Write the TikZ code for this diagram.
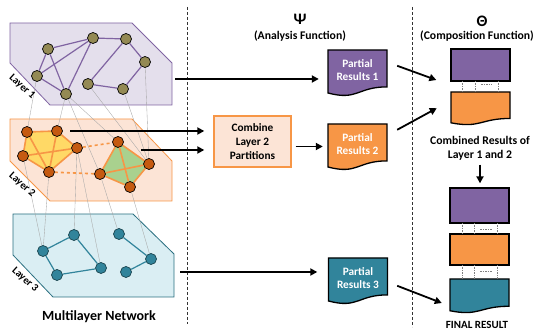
\documentclass[tikz,border=0pt]{standalone}
\usepackage{fontspec}
\setmainfont{Carlito}
\usetikzlibrary{arrows.meta,backgrounds}

\definecolor{purp}{HTML}{8064A2}
\definecolor{purplight}{HTML}{E4DFEC}
\definecolor{oran}{HTML}{F79646}
\definecolor{oranlight}{HTML}{FCE4D6}
\definecolor{teal2}{HTML}{31849B}
\definecolor{tealdark}{HTML}{2A6F80}
\definecolor{teallight}{HTML}{DAEEF3}
\definecolor{olive2}{HTML}{948A54}
\definecolor{rust}{HTML}{C55A11}
\definecolor{yell}{HTML}{FFD966}
\definecolor{gree}{HTML}{A9D18E}

\tikzset{
  plane1/.style={fill=purplight, draw=purp, line width=0.8pt},
  plane2/.style={fill=oranlight, draw=oran, line width=0.8pt},
  plane3/.style={fill=teallight, draw=tealdark, line width=0.8pt},
  node1/.style={circle, fill=olive2, draw=black, line width=0.7pt, minimum size=11pt, inner sep=0pt},
  node2/.style={node1, fill=rust},
  node3/.style={node1, fill=teal2, draw=tealdark!60!black},
  edge1/.style={purp, line width=1.2pt},
  edge2/.style={oran, line width=1.6pt},
  edge3/.style={teal2, line width=1.2pt},
  link/.style={gray!70, line width=0.35pt},
  laylabel/.style={rotate=-42, font=\bfseries\fontsize{10.5}{10.5}\selectfont},
  bigarrow/.style={line width=1.8pt, -{Triangle[length=7pt,width=7pt]}},
  sepline/.style={black!80, line width=0.7pt, dash pattern=on 3pt off 2pt},
  tabline/.style={gray, line width=0.4pt, dash pattern=on 1.5pt off 1pt},
  stackbox/.style={draw=black, line width=1.3pt, minimum width=59pt, inner sep=0pt},
  restext/.style={text=white, font=\bfseries\fontsize{11.3}{13}\selectfont, align=center, minimum width=59pt, inner sep=0pt},
  combbox/.style={draw=oran, fill=oranlight, line width=1.4pt, minimum width=77pt, minimum height=51pt, align=center, font=\bfseries\fontsize{11.3}{14}\selectfont},
  capt/.style={font=\bfseries\fontsize{11.7}{14}\selectfont, align=center},
}

% document shape with wavy bottom, then its text node
\newcommand{\resdoc}[6]{%
  \filldraw[fill=#5, draw=black, line width=1.3pt]
    ({#2-29.5},#3) -- ({#2+29.5},#3) -- ({#2+29.5},{#3+0.802*#4})
    .. controls (#2,{#3+0.802*#4}) and (#2,{#3+1.108*#4}) ..
    ({#2-29.5},{#3+0.934*#4}) -- cycle;
  \node[restext] (#1) at (#2,{#3+0.43*#4}) {#6};
}

\begin{document}
\begin{tikzpicture}[x=1pt,y=-1pt]
\useasboundingbox (0,0) rectangle (539,331);

% layer 1
\node[node1] (a1) at (48,49) {};
\node[node1] (a2) at (93,38) {};
\node[node1] (a3) at (126,39) {};
\node[node1] (a4) at (145,62) {};
\node[node1] (a5) at (37,76) {};
\node[node1] (a6) at (66,94) {};
\node[node1] (a7) at (88,84) {};
\node[node1] (a8) at (123,89) {};

% layer 2
\node[node2] (b1) at (27,132) {};
\node[node2] (b2) at (57,131) {};
\node[node2] (b3) at (77,148) {};
\node[node2] (b4) at (23,156) {};
\node[node2] (b5) at (49,172) {};
\node[node2] (c1) at (118,142) {};
\node[node2] (c2) at (149,164) {};
\node[node2] (c3) at (130,187) {};
\node[node2] (c4) at (100,174) {};

% layer 3
\node[node3] (d1) at (43,251) {};
\node[node3] (d2) at (74,235) {};
\node[node3] (d3) at (101,268) {};
\node[node3] (d4) at (57,275) {};
\node[node3] (d5) at (119,234) {};
\node[node3] (d6) at (151,259) {};
\node[node3] (d7) at (126,272) {};

\begin{scope}[on background layer]
\draw[plane1] (10,23) -- (132,23) -- (172,63) -- (172,105) -- (50,105) -- (10,63) -- cycle;
\draw[plane2] (10,119) -- (132,119) -- (172,161) -- (172,201) -- (50,201) -- (10,161) -- cycle;
\draw[plane3] (13,214) -- (133,214) -- (174,254) -- (174,297) -- (53,297) -- (13,255) -- cycle;

\fill[yell] (b1.center) -- (b2.center) -- (b3.center) -- (b5.center) -- (b4.center) -- cycle;
\fill[gree] (c1.center) -- (c2.center) -- (c3.center) -- (c4.center) -- cycle;

% links between layers
\draw[link] (a5) -- (b1);
\draw[link] (a6) -- (b2);
\draw[link] (a6) -- (c4);
\draw[link] (a6) -- (c1);
\draw[link] (a7) -- (c2);
\draw[link] (a8) -- (c2);
\draw[link] (a4) -- (c2);
\draw[link] (b4) -- (d1);
\draw[link] (b5) -- (d1);
\draw[link] (b3) -- (d2);
\draw[link] (b3) -- (d3);
\draw[link] (c4) -- (d5);
\draw[link] (c3) -- (d6);
\end{scope}

\draw[edge1] (a1) -- (a2) -- (a3) -- (a4) -- (a8) -- (a7) -- (a3);
\draw[edge1] (a1) -- (a5) -- (a6) -- (a1);
\draw[edge1] (a5) -- (a2) -- (a6);

\draw[edge2] (b1) -- (b2) -- (b3) -- (b5) -- (b4) -- (b1);
\draw[edge2] (b1) -- (b5) -- (b2);
\draw[edge2] (b4) -- (b3);
\draw[edge2] (c1) -- (c2) -- (c3) -- (c4) -- (c1);
\draw[edge2] (c1) -- (c3);
\draw[edge2] (c4) -- (c2);
\draw[edge2, dashed] (b3) -- (c1);
\draw[edge2, dashed] (b5) -- (c4);

\draw[edge3] (d1) -- (d2) -- (d3) -- (d4) -- (d1);
\draw[edge3] (d5) -- (d6) -- (d7);

\node[laylabel] (lab1) at (22,87) {Layer 1};
\node[laylabel] (lab2) at (22,185) {Layer 2};
\node[laylabel] (lab3) at (25,280) {Layer 3};
\node[font=\bfseries\fontsize{14}{14}\selectfont] (mln) at (99,317) {Multilayer Network};

% separators
\draw[sepline] (187,7) -- (187,324);
\draw[sepline] (412,7) -- (412,327);

\node[font=\bfseries\fontsize{16}{16}\selectfont] (psi) at (300,19) {Ψ};
\node[capt] (psitxt) at (300,36) {(Analysis Function)};
\node[font=\bfseries\fontsize{16}{16}\selectfont] (theta) at (482,21) {Θ};
\node[capt] (thetatxt) at (477,36) {(Composition Function)};

% partial results
\resdoc{pr1}{357.5}{50}{46}{purp}{Partial\\Results 1}
\resdoc{pr2}{357.5}{124}{46}{oran}{Partial\\Results 2}
\resdoc{pr3}{358}{258}{46}{teal2}{Partial\\Results 3}
\node[combbox] (comb) at (252.5,141.5) {Combine\\Layer 2\\Partitions};

% composition
\node[stackbox, fill=purp, minimum height=32pt] (top1) at (480.5,65) {};
\resdoc{top2}{480.5}{92}{33}{oran}{}
\node[capt] (combtxt) at (480,148) {Combined Results of\\Layer 1 and 2};
\node[stackbox, fill=purp, minimum height=35pt] (fin1) at (479.5,205.5) {};
\node[stackbox, fill=oran, minimum height=31pt] (fin2) at (479.5,249.5) {};
\resdoc{fin3}{479.5}{279}{34}{teal2}{}
\node[capt, font=\bfseries\fontsize{11}{12}\selectfont] (finres) at (477,325) {FINAL RESULT};

\draw[tabline] (462,81) -- (462,92);
\draw[tabline] (475,81) -- (475,92);
\draw[tabline] (498,81) -- (498,92);
\draw[tabline] (481,84) -- (492,84);
\draw[tabline] (462,223) -- (462,234);
\draw[tabline] (474,223) -- (474,234);
\draw[tabline] (497,223) -- (497,234);
\draw[tabline] (480,229) -- (492,229);
\draw[tabline] (462,265) -- (462,279);
\draw[tabline] (474,265) -- (474,279);
\draw[tabline] (497,265) -- (497,279);
\draw[tabline] (480,271) -- (492,271);

% arrows
\coordinate (l1out) at (175,79);
\coordinate (l2out) at (141,150);
\coordinate (l3out) at (180,272);
\draw[bigarrow, shorten >=9pt] (l1out) -- (l1out -| pr1.west);
\draw[bigarrow, shorten <=7.5pt, shorten >=9pt] (b2) -- (b2 -| comb.west);
\draw[bigarrow, shorten >=9pt] (l2out) -- (l2out -| comb.west);
\draw[bigarrow, shorten <=4pt, shorten >=5pt] ([yshift=-5pt]comb.east) -- ([yshift=-5pt]comb.east -| pr2.west);
\draw[bigarrow, shorten >=11pt] (l3out) -- (l3out -| pr3.west);
\draw[bigarrow] ([xshift=10pt,yshift=4pt]pr1.east) -- ([xshift=-14pt,yshift=-15pt]top1.west);
\draw[bigarrow] ([xshift=10pt,yshift=14pt]pr2.east) -- ([xshift=-14pt,yshift=-2pt]top2.west);
\draw[bigarrow, shorten <=1pt, shorten >=4pt] (combtxt.south) -- (combtxt.south |- fin1.north);
\draw[bigarrow] ([xshift=9.5pt,yshift=-8pt]pr3.east) -- ([xshift=-8pt,yshift=-9.4pt]fin3.west);
\end{tikzpicture}
\end{document}
